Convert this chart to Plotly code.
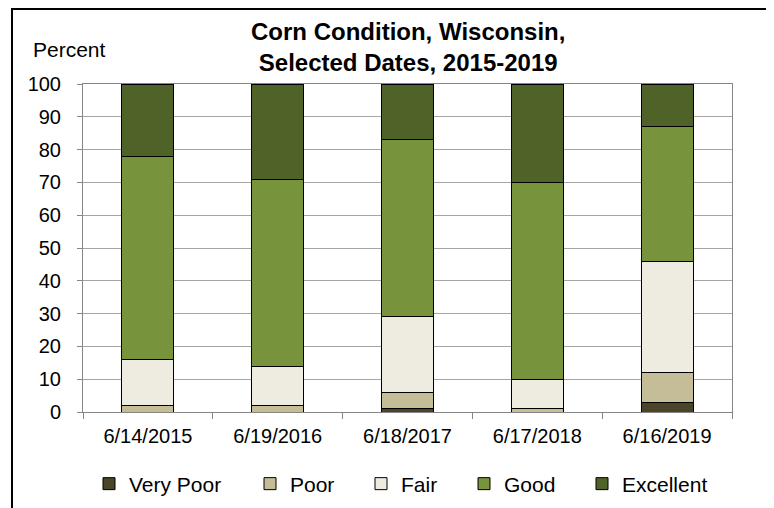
import plotly.graph_objects as go

dates = ["6/14/2015", "6/19/2016", "6/18/2017", "6/17/2018", "6/16/2019"]
very_poor = [0, 0, 1, 0, 3]
poor = [2, 2, 5, 1, 9]
fair = [14, 12, 23, 9, 34]
good = [62, 57, 54, 60, 41]
excellent = [22, 29, 17, 30, 13]

series = [
    ("Very Poor", very_poor, "#4a4529"),
    ("Poor", poor, "#c4bd97"),
    ("Fair", fair, "#eeece1"),
    ("Good", good, "#77933c"),
    ("Excellent", excellent, "#4f6228"),
]

FONT = "Liberation Sans, Arial, sans-serif"

# page offset (body margin) of 8 px
OFF = 8
W, H = 766, 500
L, R, T, B = 75, 42, 76, 96
pw, ph = W - L - R, H - T - B


def px(xpage):
    return (xpage - OFF - L) / pw


def py(ypage):
    return (H - B - (ypage - OFF)) / ph


def cy(ypage):
    return 1 - (ypage - OFF) / H


legend_lefts = [89, 250, 361, 464, 582]

fig = go.Figure()
for i, (name, vals, color) in enumerate(series):
    lg = "legend" if i == 0 else f"legend{i + 1}"
    fig.add_trace(go.Bar(
        x=dates, y=vals, name=name, legend=lg,
        marker=dict(color=color, line=dict(color="#000000", width=1)),
    ))

layout_legends = {}
for i, lx in enumerate(legend_lefts):
    key = "legend" if i == 0 else f"legend{i + 1}"
    layout_legends[key] = dict(
        orientation="h", x=px(lx), xanchor="left",
        yref="container", y=cy(484), yanchor="middle",
        font=dict(size=21, family=FONT), itemwidth=30, bgcolor="rgba(0,0,0,0)",
    )

fig.update_layout(
    width=W, height=H, autosize=False,
    margin=dict(l=L, r=R, t=T, b=B, pad=0, autoexpand=False),
    barmode="stack", bargap=0.6,
    paper_bgcolor="white", plot_bgcolor="white",
    font=dict(family=FONT, size=20, color="#000000"),
    showlegend=True,
    xaxis=dict(
        type="category", showline=True, linecolor="#868686", linewidth=1,
        mirror=True, ticks="outside", tickson="boundaries", ticklen=6,
        tickcolor="#868686", showgrid=False, tickfont=dict(size=20),
        ticklabelstandoff=6,
    ),
    yaxis=dict(
        range=[0, 100], dtick=10, showline=True, linecolor="#868686", linewidth=1,
        mirror=True, ticks="outside", ticklen=5, tickcolor="#868686",
        showgrid=True, gridcolor="#a6a6a6", gridwidth=1,
        tickfont=dict(size=20), zeroline=False, ticklabelstandoff=12,
    ),
    annotations=[
        dict(text="<b>Corn Condition, Wisconsin,<br>Selected Dates, 2015-2019</b>",
             xref="paper", yref="paper", x=0.5, y=py(47), xanchor="center", yanchor="middle",
             showarrow=False, font=dict(size=24, family=FONT)),
        dict(text="Percent", xref="paper", yref="paper", x=px(69), y=py(49),
             xanchor="center", yanchor="middle", showarrow=False, font=dict(size=21, family=FONT)),
    ],
    shapes=[
        dict(type="path", xref="paper", yref="paper",
             path=f"M {px(12)} {py(540)} L {px(12)} {py(9)} L {px(770)} {py(9)} L {px(770)} {py(540)}",
             line=dict(color="#000000", width=2)),
    ],
    **layout_legends,
)

fig.write_html("out.html")
